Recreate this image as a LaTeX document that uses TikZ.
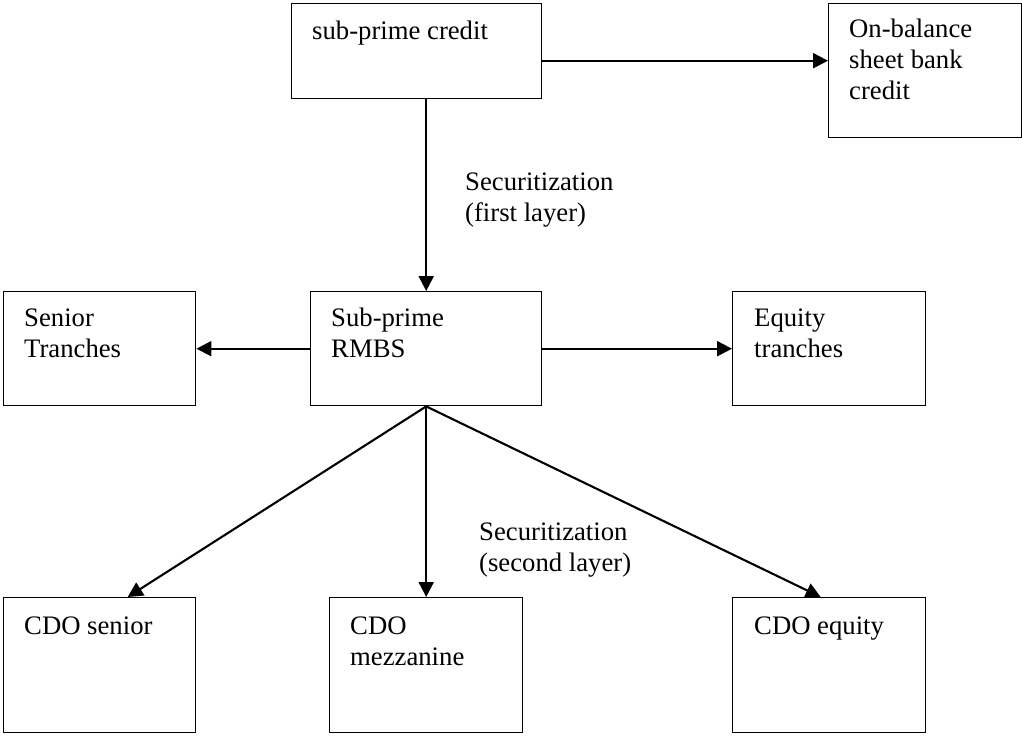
\documentclass[tikz,border=0pt]{standalone}
\usepackage{fontspec}
\setmainfont{Liberation Serif}
\usetikzlibrary{arrows.meta}
\begin{document}
\begin{tikzpicture}[x=1pt,y=-1pt,
  box/.style={draw=black, line width=1.4pt, rectangle, inner sep=0pt, anchor=north west},
  txt/.style={anchor=base west, inner sep=0pt, align=left, font=\fontsize{26.7}{31}\selectfont},
  arr/.style={draw=black, line width=2.1pt, -{Triangle[length=15pt,width=15pt]}}
]
\useasboundingbox (0,0) rectangle (1022,736);
% boxes
\node[box, minimum width=250pt, minimum height=95pt] (credit) at (291,3) {};
\node[box, minimum width=193pt, minimum height=134pt] (onbal) at (828,3) {};
\node[box, minimum width=192pt, minimum height=114pt] (senior) at (3,291) {};
\node[box, minimum width=231pt, minimum height=114pt] (rmbs) at (310,291) {};
\node[box, minimum width=193pt, minimum height=114pt] (equity) at (732,291) {};
\node[box, minimum width=192pt, minimum height=135pt] (cdos) at (3,597) {};
\node[box, minimum width=193pt, minimum height=135pt] (cdom) at (329,597) {};
\node[box, minimum width=193pt, minimum height=135pt] (cdoe) at (732,597) {};
% texts (anchor base = baseline of the last line)
\node[txt] (tcredit) at (312,39.5) {sub-prime credit};
\node[txt] (tonbal) at (849,99) {On-balance\\sheet bank\\credit};
\node[txt] (tsenior) at (24,357) {Senior\\Tranches};
\node[txt] (trmbs) at (331,357) {Sub-prime\\RMBS};
\node[txt] (tequity) at (754,357) {Equity\\tranches};
\node[txt] (tcdos) at (24,634) {CDO senior};
\node[txt] (tcdom) at (350,665) {CDO\\mezzanine};
\node[txt] (tcdoe) at (754,634) {CDO equity};
\node[txt] (lab1) at (465,221.7) {Securitization\\(first layer)};
\node[txt] (lab2) at (479,571.7) {Securitization\\(second layer)};
% connectors
\draw[arr] ([yshift=-9.5pt]credit.east) -- ([yshift=10pt]onbal.west);
\draw[arr] (credit.south -| rmbs.north) -- (rmbs.north);
\draw[arr] (rmbs.west) -- (senior.east);
\draw[arr] (rmbs.east) -- (equity.west);
\draw[arr] (rmbs.south) -- ([xshift=28pt]cdos.north);
\draw[arr] (rmbs.south) -- (cdom.north);
\draw[arr] (rmbs.south) -- ([xshift=-8.5pt]cdoe.north);
\end{tikzpicture}
\end{document}
